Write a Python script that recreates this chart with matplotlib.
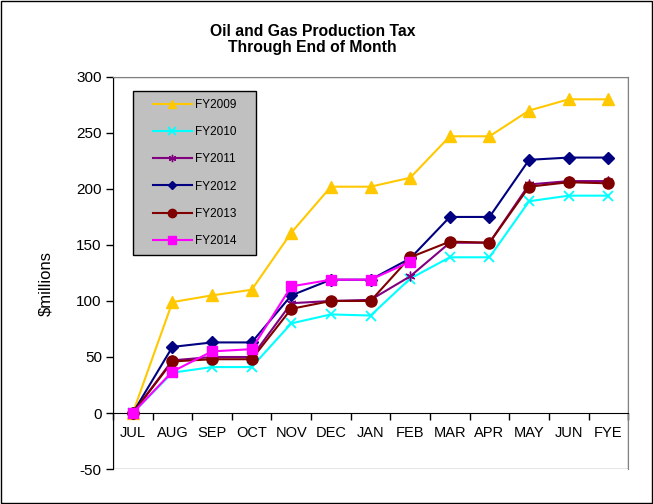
"""
Oil and Gas Production Tax - cumulative collections through end of month, by fiscal year.
"""
import matplotlib
matplotlib.use('Agg')
import matplotlib.pyplot as plt
from matplotlib.patches import Rectangle
import numpy as np

plt.rcParams['font.family'] = ['Liberation Sans', 'DejaVu Sans']
plt.rcParams['axes.unicode_minus'] = False

months = ['JUL', 'AUG', 'SEP', 'OCT', 'NOV', 'DEC', 'JAN', 'FEB',
          'MAR', 'APR', 'MAY', 'JUN', 'FYE']

# cumulative $ millions
fy2009 = [0, 99, 105, 110, 161, 202, 202, 210, 247, 247, 270, 280, 280]
fy2010 = [0, 36, 41, 41, 80, 88, 87, 120, 139, 139, 189, 194, 194]
fy2011 = [0, 47, 50, 50, 98, 100, 101, 122, 152, 152, 204, 207, 207]
fy2012 = [0, 59, 63, 63, 105, 119, 119, 138, 175, 175, 226, 228, 228]
fy2013 = [0, 46, 48, 48, 93, 100, 100, 139, 153, 152, 202, 206, 205]
fy2014 = [0, 37, 55, 57, 113, 119, 119, 135]

series = [
    ('FY2009', fy2009, '#FFC800', '^', 8, 1.0),
    ('FY2010', fy2010, '#00FFFF', 'x', 7, 1.3),
    ('FY2011', fy2011, '#800080', (6, 2, 0), 7, 1.0),
    ('FY2012', fy2012, '#000080', 'D', 6, 1.0),
    ('FY2013', fy2013, '#800000', 'o', 8, 1.0),
    ('FY2014', fy2014, '#FF00FF', 's', 7, 1.0),
]

fig = plt.figure(figsize=(6.53, 5.04), dpi=100)
ax = fig.add_axes([0.173, 0.0694, 0.789, 0.778])

for name, vals, col, mk, ms, mew in series:
    x = np.arange(len(vals))
    ax.plot(x, vals, color=col, marker=mk, markersize=ms, markeredgewidth=mew,
            markeredgecolor=col, markerfacecolor=col, linewidth=1.5, label=name,
            clip_on=False, zorder=3)

ax.set_xlim(-0.5, len(months) - 0.5)
ax.set_ylim(-50, 300)
ax.set_yticks(np.arange(-50, 301, 50))
ax.tick_params(axis='y', direction='out', length=5, width=1, labelsize=11, pad=3)

# category axis sits at zero; tick marks fall between categories
ax.spines['bottom'].set_position(('data', 0))
ax.spines['bottom'].set_color('black')
ax.spines['left'].set_color('black')
ax.spines['top'].set_color('#808080')
ax.spines['right'].set_color('#808080')
ax.set_xticks(np.arange(len(months)))
ax.set_xticklabels(months)
ax.set_xticks(np.arange(len(months) + 1) - 0.5, minor=True)
ax.tick_params(axis='x', which='major', length=0, labelsize=10.5, pad=9)
ax.tick_params(axis='x', which='minor', direction='out', length=5, width=1)
ax.add_patch(Rectangle((0, 0), 1, 1, transform=ax.transAxes, fill=False,
                       edgecolor='#808080', linewidth=1, zorder=0))

ax.set_ylabel('$millions', fontsize=12)
ax.yaxis.set_label_coords(-0.1165, 0.474)

fig.text(0.479, 0.921, 'Oil and Gas Production Tax\nThrough End of Month',
         ha='center', va='center', fontsize=11.3, fontweight='bold', linespacing=1.1)

# legend box drawn separately so the entries can sit inset from its edge
ax.add_patch(Rectangle((0.0388, 0.546), 0.239, 0.418, transform=ax.transAxes,
                       facecolor='#C0C0C0', edgecolor='black', linewidth=1, zorder=2))
leg = ax.legend(loc='upper left', bbox_to_anchor=(0.0777, 0.943), fontsize=8.5,
                frameon=False, labelspacing=1.28, handlelength=3.3, borderpad=0,
                handletextpad=0.25, markerscale=0.75, borderaxespad=0)
leg.set_zorder(4)

# outer chart border
fig.patches.append(Rectangle((0.001, 0.002), 0.997, 0.996, transform=fig.transFigure,
                             fill=False, edgecolor='black', linewidth=1))

plt.savefig('out.png', dpi=100)
